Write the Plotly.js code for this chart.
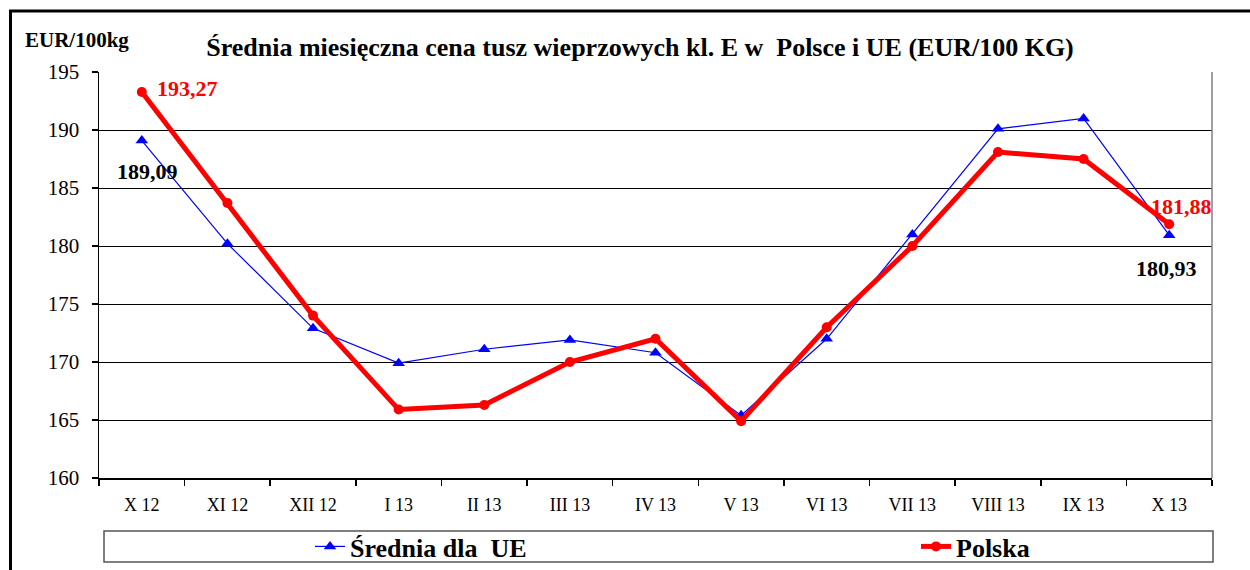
<!DOCTYPE html>
<html>
<head>
<meta charset="utf-8">
<script src="https://cdn.plot.ly/plotly-3.0.1.min.js"></script>
<style>
  html, body { margin: 0; padding: 0; background: #ffffff; }
  #chart { width: 1250px; height: 570px; }
</style>
</head>
<body>
<div id="chart"></div>
<script>
const categories = ["X 12", "XI 12", "XII 12", "I 13", "II 13", "III 13", "IV 13", "V 13", "VI 13", "VII 13", "VIII 13", "IX 13", "X 13"];
const sredniaUE = [189.09, 180.2, 172.9, 169.9, 171.1, 171.9, 170.8, 165.4, 172.0, 181.0, 190.1, 191.0, 180.93];
const polska = [193.27, 183.7, 174.0, 165.9, 166.3, 170.0, 172.0, 164.9, 173.0, 180.0, 188.1, 187.5, 181.88];
const yTicks = [160, 165, 170, 175, 180, 185, 190, 195];
const seriesNames = ["Średnia dla  UE", "Polska"];

const W = 1250, H = 570;
const M = {l: 99, r: 38, t: 72, b: 92, autoexpand: false};
const PW = W - M.l - M.r, PH = H - M.t - M.b;
const px = x => (x - M.l) / PW;          // pixel -> paper x
const py = y => (H - M.b - y) / PH;      // pixel -> paper y

const fmt = v => v.toFixed(2).replace('.', ',');
const serif = "'Liberation Serif', 'Times New Roman', serif";

const traces = [
  {
    type: 'scatter', mode: 'lines+markers', name: '<b>' + seriesNames[0] + '</b>', legend: 'legend',
    x: categories, y: sredniaUE,
    line: {color: '#0000FF', width: 1.2},
    marker: {symbol: 'triangle-up', size: 11, color: '#0000FF'}
  },
  {
    type: 'scatter', mode: 'lines+markers', name: '<b>' + seriesNames[1] + '</b>', legend: 'legend2',
    x: categories, y: polska,
    line: {color: '#FF0000', width: 5},
    marker: {symbol: 'circle', size: 10, color: '#FF0000'}
  }
];

const last = categories.length - 1;
const annotations = [
  {x: categories[0], y: polska[0], text: '<b>' + fmt(polska[0]) + '</b>', showarrow: false,
   xshift: 46, yshift: 4, font: {family: serif, size: 22, color: '#FF0000'}},
  {x: categories[0], y: sredniaUE[0], text: '<b>' + fmt(sredniaUE[0]) + '</b>', showarrow: false,
   xshift: 6, yshift: -31, font: {family: serif, size: 22, color: '#000000'}},
  {x: categories[last], y: polska[last], text: '<b>' + fmt(polska[last]) + '</b>', showarrow: false,
   xshift: 12, yshift: 18, font: {family: serif, size: 22, color: '#FF0000'}},
  {x: categories[last], y: sredniaUE[last], text: '<b>' + fmt(sredniaUE[last]) + '</b>', showarrow: false,
   xshift: -3, yshift: -33, font: {family: serif, size: 22, color: '#000000'}},
  {xref: 'paper', yref: 'paper', x: px(23), y: py(40), xanchor: 'left', yanchor: 'middle',
   text: '<b>EUR/100kg</b>', showarrow: false, font: {family: serif, size: 21, color: '#000000'}}
];

const shapes = [
  // outer frame (top and left visible)
  {type: 'rect', xref: 'paper', yref: 'paper', x0: px(10.5), x1: px(1262), y0: py(590), y1: py(11),
   line: {color: '#000000', width: 3}, fillcolor: 'rgba(0,0,0,0)'},
  // plot area right border
  {type: 'line', xref: 'paper', yref: 'paper', x0: 1, x1: 1, y0: 0, y1: 1,
   line: {color: '#808080', width: 1.5}},
  // legend box
  {type: 'rect', xref: 'paper', yref: 'paper', x0: px(104), x1: px(1213), y0: py(562), y1: py(531),
   line: {color: '#555555', width: 1.5}, fillcolor: 'rgba(0,0,0,0)'}
];

const legendBase = {
  orientation: 'h', xanchor: 'left', yanchor: 'middle', y: py(546.5),
  bgcolor: 'rgba(0,0,0,0)', borderwidth: 0,
  font: {family: serif, size: 26, color: '#000000'},
  itemclick: false, itemdoubleclick: false
};

const layout = {
  width: W, height: H,
  margin: M,
  paper_bgcolor: '#ffffff', plot_bgcolor: '#ffffff',
  font: {family: serif, color: '#000000'},
  title: {
    text: '<b>Średnia miesięczna cena tusz wieprzowych kl. E w  Polsce i UE (EUR/100 KG)</b>',
    font: {family: serif, size: 26, color: '#000000'},
    x: 640 / W, xref: 'container', xanchor: 'center',
    y: 1 - 47 / H, yref: 'container', yanchor: 'middle'
  },
  xaxis: {
    type: 'category', categoryorder: 'array', categoryarray: categories,
    range: [-0.5, categories.length - 0.5],
    showgrid: false, zeroline: false,
    showline: true, linecolor: '#000000', linewidth: 1.5,
    ticks: 'outside', ticklen: 6, tickcolor: '#000000', tickwidth: 1.5, tickson: 'boundaries',
    tickfont: {family: serif, size: 18, color: '#000000'},
    ticklabelstandoff: 10
  },
  yaxis: {
    range: [160, 195], tickvals: yTicks, ticktext: yTicks.map(String),
    showgrid: true, gridcolor: '#000000', gridwidth: 1,
    zeroline: false,
    showline: true, linecolor: '#000000', linewidth: 1.5,
    ticks: 'outside', ticklen: 6, tickcolor: '#000000', tickwidth: 1.5,
    tickfont: {family: serif, size: 21, color: '#000000'},
    ticklabelstandoff: 8
  },
  showlegend: true,
  legend: Object.assign({}, legendBase, {x: px(310)}),
  legend2: Object.assign({}, legendBase, {x: px(916)}),
  annotations: annotations,
  shapes: shapes
};

Plotly.newPlot('chart', traces, layout, {displayModeBar: false, staticPlot: true});
</script>
</body>
</html>
